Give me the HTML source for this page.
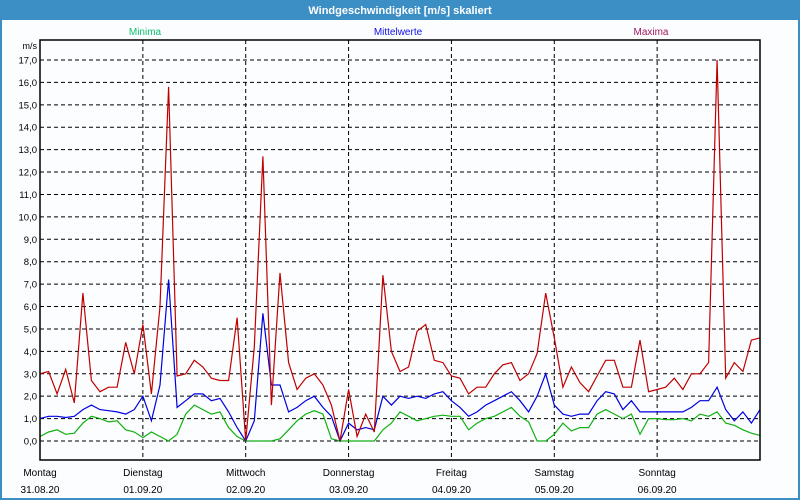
<!DOCTYPE html>
<html><head><meta charset="utf-8"><style>
body{margin:0;width:800px;height:500px;overflow:hidden;background:#fff;font-family:"Liberation Sans",sans-serif}
</style></head><body>
<svg width="800" height="500" xmlns="http://www.w3.org/2000/svg" style="display:block">
<rect x="0" y="0" width="800" height="500" fill="#3b8fc4"/>
<rect x="2" y="20" width="796" height="478" fill="#fcfdff"/>
<text x="400" y="14" text-anchor="middle" font-size="11" font-weight="bold" fill="#fff">Windgeschwindigkeit [m/s] skaliert</text>
<text x="145" y="35" text-anchor="middle" font-size="10" fill="#10c070">Minima</text>
<text x="398" y="35" text-anchor="middle" font-size="10" fill="#1010e0">Mittelwerte</text>
<text x="651" y="35" text-anchor="middle" font-size="10" fill="#a01860">Maxima</text>
<text x="37" y="49" text-anchor="end" font-size="9" fill="#000">m/s</text>
<g id="grid"></g><g id="series"></g><g id="labels"></g>
<rect x="40" y="40" width="720" height="420" fill="none" stroke="#000" stroke-width="1.5"/>
</svg>
<script>
const hours=[];for(let h=0;h<=168;h+=2)hours.push(h);
const dayNames=["Montag","Dienstag","Mittwoch","Donnerstag","Freitag","Samstag","Sonntag"];
const dayDates=["31.08.20","01.09.20","02.09.20","03.09.20","04.09.20","05.09.20","06.09.20"];
const yTicks=[0,1,2,3,4,5,6,7,8,9,10,11,12,13,14,15,16,17];
const maxima=[3.0,3.1,2.1,3.2,1.7,6.6,2.7,2.2,2.4,2.4,4.4,3.0,5.2,2.1,6.0,15.8,2.9,3.0,3.6,3.3,2.8,2.7,2.7,5.5,0.0,4.2,12.7,1.6,7.5,3.5,2.3,2.8,3.0,2.5,1.6,0.0,2.3,0.2,1.2,0.4,7.4,4.0,3.1,3.3,4.9,5.2,3.6,3.5,2.9,2.8,2.1,2.4,2.4,3.0,3.4,3.5,2.7,3.0,3.9,6.6,4.6,2.4,3.3,2.6,2.2,2.9,3.6,3.6,2.4,2.4,4.5,2.2,2.3,2.4,2.8,2.3,3.0,3.0,3.5,17.0,2.8,3.5,3.1,4.5,4.6];
const mittel=[1.0,1.1,1.1,1.05,1.1,1.4,1.6,1.4,1.35,1.3,1.2,1.4,2.0,0.9,2.5,7.2,1.5,1.8,2.1,2.1,1.8,1.9,1.3,0.6,0.0,0.9,5.7,2.5,2.5,1.3,1.5,1.8,2.0,1.5,1.1,0.0,0.8,0.5,0.6,0.5,2.0,1.6,2.0,1.9,2.0,1.9,2.1,2.2,1.8,1.5,1.1,1.3,1.6,1.8,2.0,2.2,1.8,1.3,2.0,3.0,1.6,1.2,1.1,1.2,1.2,1.8,2.2,2.1,1.4,1.8,1.3,1.3,1.3,1.3,1.3,1.3,1.5,1.8,1.8,2.4,1.4,0.9,1.3,0.8,1.4];
const minima=[0.2,0.4,0.5,0.3,0.35,0.8,1.1,1.0,0.85,0.9,0.5,0.4,0.15,0.4,0.2,0.0,0.3,1.2,1.6,1.4,1.2,1.3,0.6,0.2,0,0,0,0,0.1,0.5,0.9,1.2,1.35,1.2,0.1,0,0,0,0,0,0.5,0.8,1.3,1.1,0.9,1.0,1.1,1.15,1.1,1.1,0.5,0.8,1.0,1.1,1.3,1.5,1.1,0.85,0.0,0.0,0.3,0.8,0.45,0.6,0.6,1.2,1.4,1.2,1.0,1.2,0.3,1.0,1.0,0.95,0.95,1.0,0.9,1.2,1.1,1.3,0.8,0.7,0.5,0.35,0.25];
const NS="http://www.w3.org/2000/svg";
const X=h=>40+h*720/168;
const Y=v=>441-v*(381/17);
function mk(tag,attrs,parent){const e=document.createElementNS(NS,tag);for(const k in attrs)e.setAttribute(k,attrs[k]);parent.appendChild(e);return e;}
const grid=document.getElementById('grid'),labels=document.getElementById('labels'),series=document.getElementById('series');
yTicks.forEach(v=>{
 const l=mk('line',{x1:40,x2:760,y1:Y(v),y2:Y(v),stroke:'#000','stroke-dasharray':'4,3','stroke-width':1},grid);
 
 
 const t=mk('text',{x:37,y:Y(v)+3.5,'text-anchor':'end','font-size':9.5,fill:'#000'},labels);
 t.textContent=v.toFixed(1).replace('.',',');
 
 
});
dayNames.forEach((d,i)=>{
 const x=X(i*24);
 if(i>0){const l=mk('line',{x1:x,x2:x,y1:40,y2:460,stroke:'#000','stroke-dasharray':'4,3','stroke-width':1},grid);
 
 }
 const t=mk('text',{x:x,y:476,'text-anchor':'middle','font-size':10,fill:'#000'},labels);t.textContent=d;
 
 
 const t2=mk('text',{x:x,y:493,'text-anchor':'middle','font-size':10,fill:'#000'},labels);t2.textContent=dayDates[i];
 
 
});
function line(arr,color,name){
 const pts=arr.map((v,i)=>X(hours[i]).toFixed(1)+','+Y(v).toFixed(1)).join(' ');
 const p=mk('polyline',{points:pts,fill:'none',stroke:color,'stroke-width':1.2},series);
 
 
}
line(minima,'#10b010','minima-line');
line(mittel,'#0000e0','mittelwerte-line');
line(maxima,'#c00000','maxima-line');
</script>
</body></html>
